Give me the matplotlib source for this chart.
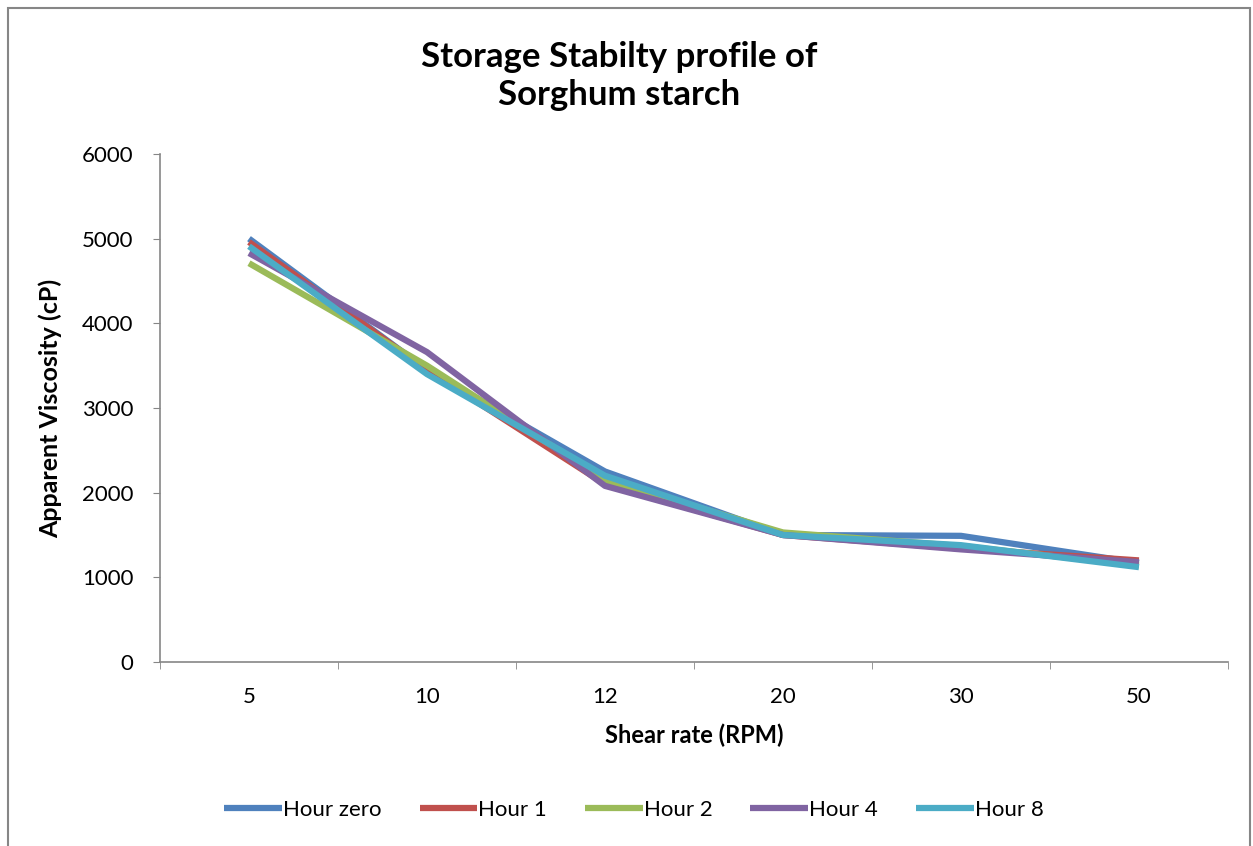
import matplotlib
matplotlib.use("Agg")
import matplotlib.pyplot as plt
from matplotlib.patches import Rectangle

plt.rcParams['font.family'] = ['Lato', 'DejaVu Sans']

shear_rpm = ["5", "10", "12", "20", "30", "50"]
hour_zero = [5000, 3450, 2250, 1500, 1490, 1170]
hour_1    = [4960, 3450, 2100, 1500, 1340, 1200]
hour_2    = [4710, 3500, 2150, 1530, 1370, 1140]
hour_4    = [4830, 3660, 2080, 1500, 1330, 1180]
hour_8    = [4910, 3400, 2200, 1500, 1380, 1120]

series = [
    ("Hour zero", hour_zero, "#4F81BD"),
    ("Hour 1",    hour_1,    "#C0504D"),
    ("Hour 2",    hour_2,    "#9BBB59"),
    ("Hour 4",    hour_4,    "#8064A2"),
    ("Hour 8",    hour_8,    "#4BACC6"),
]

fig = plt.figure(figsize=(12.53, 8.46), dpi=100)
ax = fig.add_axes([0.1277, 0.2175, 0.8523, 0.6005])

x = list(range(len(shear_rpm)))
for name, vals, col in series:
    ax.plot(x, vals, color=col, linewidth=4.5, label=name, solid_capstyle="butt")

ax.set_xlim(-0.5, len(shear_rpm) - 0.5)
ax.set_ylim(0, 6000)
ax.set_yticks(range(0, 6001, 1000))
ax.set_xticks(x)
ax.set_xticklabels(shear_rpm)
ax.set_xticks([i - 0.5 for i in range(len(shear_rpm) + 1)], minor=True)
ax.tick_params(axis="x", which="major", length=0, labelsize=16, pad=18)
ax.tick_params(axis="x", which="minor", length=5, color="#868686", direction="out")
ax.tick_params(axis="y", length=5, color="#868686", labelsize=16, pad=14)

for s in ["top", "right"]:
    ax.spines[s].set_visible(False)
for s in ["left", "bottom"]:
    ax.spines[s].set_color("#868686")
    ax.spines[s].set_linewidth(1.2)

ax.set_xlabel("Shear rate (RPM)", fontsize=17, fontweight="bold", labelpad=12)
ax.set_ylabel("Apparent Viscosity (cP)", fontsize=18, fontweight="bold", labelpad=14)
fig.text(0.494, 0.91, "Storage Stabilty profile of\nSorghum starch", fontsize=25,
         fontweight="bold", ha="center", va="center", linespacing=1.25)

fig.legend(loc="center", bbox_to_anchor=(0.506, 0.043), ncol=5, frameon=False,
           fontsize=16, handlelength=2.6, handletextpad=0.05, columnspacing=1.7)

fig.patches.append(Rectangle((8 / 1253, -0.1), 1242 / 1253, 1.1 - 8 / 846,
                             transform=fig.transFigure, fill=False,
                             edgecolor="#868686", linewidth=1.5))

fig.savefig("out.png", dpi=100, facecolor="white")
